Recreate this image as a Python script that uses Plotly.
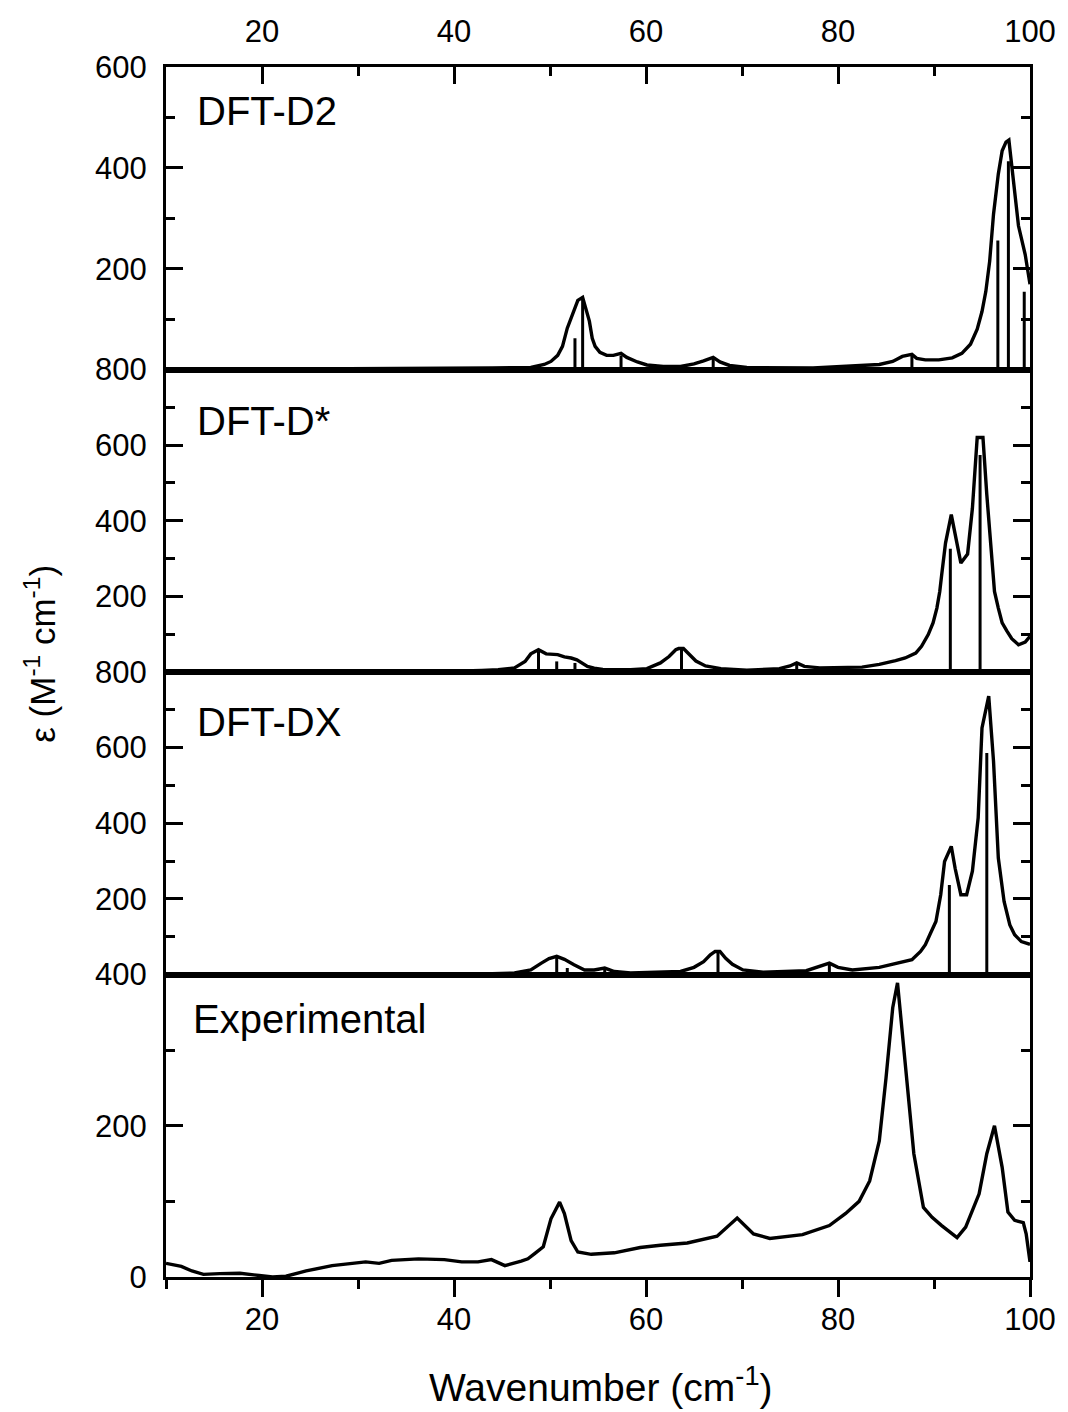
import plotly.graph_objects as go

# ---------------- data ----------------
d2_x = [10, 20, 30, 40, 44, 46, 48.0, 49.4, 50.1, 50.8, 51.3, 51.8, 52.3, 52.9, 53.4, 53.7, 54.1, 54.4, 54.7,
        55.2, 55.9, 56.6, 57.4, 58.0, 59.1, 60.1, 61.8, 63.6, 65.0, 66.0, 67.0, 67.7, 68.7, 70.5, 77.4, 84.3,
        85.7, 86.7, 87.7, 88.2, 89.1, 90.5, 91.9, 92.9, 93.8, 94.5, 95.0, 95.4, 95.8, 96.2, 96.7, 97.1, 97.5,
        97.8, 98.8, 99.5, 100]
d2_y = [0, 0.5, 1, 2, 3, 3.5, 4, 10, 16, 28, 46, 82, 109, 137, 143, 125, 96, 62, 46,
        34, 28, 28, 32, 24, 15, 9, 6, 6, 11, 17, 24, 15, 8, 4, 3, 10,
        16, 26, 30, 22, 19, 19, 23, 32, 50, 80, 115, 155, 215, 308, 388, 434, 451,
        455, 285, 228, 169]
d2_stick_x = [52.6, 53.4, 57.4, 67.0, 87.7, 96.65, 97.75, 99.4]
d2_stick_h = [62, 140, 28, 22, 28, 256, 413, 154]

ds_x = [10, 30, 40, 42.9, 44.6, 46.3, 47.4, 48.0, 48.8, 49.6, 50.2, 50.8, 51.5, 52.2, 52.8, 53.3, 53.9, 54.6,
        55.5, 58.4, 60.1, 61.5, 62.4, 63.1, 63.4, 63.9, 64.5, 65.2, 66.2, 67.8, 70.5, 73.9, 75.0, 75.7, 76.5,
        78.1, 82.5, 84.3, 86.0, 87.0, 88.1, 88.7, 89.4, 89.9, 90.3, 90.6, 90.8, 91.2, 91.8, 92.4, 92.8, 93.5,
        94.0, 94.5, 95.1, 95.5, 96.0, 96.3, 96.7, 97.1, 97.6, 98.1, 98.8, 99.5, 100]
ds_y = [0, 1, 2, 4, 6, 11, 28, 48, 59, 48, 46, 46, 40, 37, 32, 24, 15, 10,
        7, 6, 9, 24, 41, 59, 62, 62, 46, 29, 16, 9, 4.5, 9, 16, 24, 15,
        11, 13, 20, 30, 37, 50, 68, 99, 130, 169, 213, 257, 341, 416, 345, 288, 312,
        433, 620, 620, 469, 293, 213, 169, 130, 108, 88, 72, 79, 94]
ds_stick_x = [48.8, 50.7, 52.6, 63.7, 75.7, 91.7, 94.8]
ds_stick_h = [55, 28, 24, 60, 22, 326, 574]

dx_x = [10, 30, 40, 44, 46.3, 48.0, 49.1, 49.9, 50.7, 51.5, 52.5, 53.6, 54.6, 55.7, 56.7, 58.4, 63.6, 65.0,
        66.0, 66.7, 67.2, 67.7, 68.3, 69.0, 70.1, 72.2, 76.7, 78.1, 79.1, 80.0, 81.5, 84.3, 86.4, 87.7, 88.6,
        89.1, 89.6, 90.2, 90.7, 91.1, 91.8, 92.2, 92.8, 93.4, 94.0, 94.6, 95.0, 95.7, 96.2, 96.7, 97.3, 97.9,
        98.4, 99.1, 100]
dx_y = [0, 1, 1, 2, 4, 12, 30, 42, 48, 40, 26, 12, 12, 17, 8, 4, 8, 19,
        34, 52, 61, 61, 43, 27, 12, 6, 10, 21, 30, 19, 12, 19, 30, 39, 61,
        79, 107, 140, 211, 299, 339, 281, 211, 211, 273, 414, 652, 736, 564, 308, 193, 131,
        105, 87, 80]
dx_stick_x = [50.7, 51.8, 55.7, 67.5, 79.1, 91.6, 95.5]
dx_stick_h = [44, 17, 15, 61, 28, 237, 586]

exp_x = [10.0, 11.6, 12.7, 13.9, 15.6, 17.7, 19.7, 21.1, 22.5, 24.6, 27.3, 30.8, 32.2, 33.5, 36.3, 37.7, 39.0,
         40.8, 42.5, 43.9, 45.3, 47.0, 47.7, 48.4, 49.3, 50.1, 51.0, 51.5, 52.2, 52.9, 54.3, 56.7, 59.4, 61.5,
         64.3, 67.4, 69.5, 71.2, 72.9, 76.3, 79.1, 80.8, 82.2, 83.3, 84.3, 85.0, 85.7, 86.2, 87.1, 87.9, 88.9,
         89.8, 90.8, 92.4, 93.3, 94.7, 95.5, 96.3, 97.1, 97.7, 98.4, 99.3, 99.6, 100]
exp_y = [18, 14, 8, 3.5, 4.5, 5, 2, 0, 1, 8, 15, 20, 18, 22, 24, 24, 23,
         20, 20, 23, 15, 21, 24, 31, 40, 77, 99, 84, 48, 33, 30, 32, 39, 42,
         45, 54, 78, 57, 51, 56, 68, 84, 100, 127, 180, 263, 356, 389, 272, 163, 92,
         79, 68, 52, 66, 110, 163, 200, 145, 86, 75, 72, 57, 20]

panel_names = ["DFT-D2", "DFT-D*", "DFT-DX", "Experimental"]
y_ranges = [[0, 600], [0, 800], [0, 800], [0, 400]]
y_tickvals = [[0, 200, 400, 600], [0, 200, 400, 600, 800], [0, 200, 400, 600, 800], [0, 200, 400]]
y_ticktext = [["", "200", "400", "600"], ["", "200", "400", "600", "800"],
              ["", "200", "400", "600", "800"], ["0", "200", "400"]]
y_minor = [[100, 300, 500], [100, 300, 500, 700], [100, 300, 500, 700], [100, 300]]
x_tickvals = [20, 40, 60, 80, 100]
x_minorvals = [10, 30, 50, 70, 90]

# ---------------- figure ----------------
FONT = "Liberation Sans, Arial, sans-serif"
LW = 3
CW = 3.4
fig = go.Figure()

curves = [(d2_x, d2_y), (ds_x, ds_y), (dx_x, dx_y), (exp_x, exp_y)]
sticks = [(d2_stick_x, d2_stick_h), (ds_stick_x, ds_stick_h), (dx_stick_x, dx_stick_h), None]

for i in range(4):
    xa = "x" if i == 0 else f"x{i+1}"
    ya = "y" if i == 0 else f"y{i+1}"
    if sticks[i] is not None:
        sx, sh = sticks[i]
        xs, ys = [], []
        for a, h in zip(sx, sh):
            xs += [a, a, None]
            ys += [0, h, None]
        fig.add_trace(go.Scatter(x=xs, y=ys, mode="lines", line=dict(color="black", width=LW),
                                 xaxis=xa, yaxis=ya, showlegend=False, hoverinfo="skip"))
    cx, cy = curves[i]
    fig.add_trace(go.Scatter(x=cx, y=cy, mode="lines", line=dict(color="black", width=CW),
                             xaxis=xa, yaxis=ya, showlegend=False))

domains = [[0.75, 1.0], [0.5, 0.75], [0.25, 0.5], [0.0, 0.25]]
TICKFONT = dict(family=FONT, size=31, color="black")
layout = {}
for i in range(4):
    xk = "xaxis" if i == 0 else f"xaxis{i+1}"
    yk = "yaxis" if i == 0 else f"yaxis{i+1}"
    ya = "y" if i == 0 else f"y{i+1}"
    xax = dict(range=[10, 100], domain=[0, 1], anchor=ya, showline=True, linewidth=LW, linecolor="black",
               mirror=True, showgrid=False, zeroline=False, fixedrange=True, tickfont=TICKFONT)
    if i == 0:
        xax.update(side="top", ticks="inside", ticklen=17, tickwidth=LW, tickcolor="black",
                   tickmode="array", tickvals=x_tickvals, showticklabels=True, ticklabelstandoff=10,
                   minor=dict(tickmode="array", tickvals=x_minorvals, ticks="inside", ticklen=9,
                              tickwidth=LW, tickcolor="black"))
    elif i == 3:
        xax.update(side="bottom", ticks="outside", ticklen=17, tickwidth=LW, tickcolor="black",
                   tickmode="array", tickvals=x_tickvals, showticklabels=True, ticklabelstandoff=-4,
                   minor=dict(tickmode="array", tickvals=x_minorvals, ticks="outside", ticklen=9,
                              tickwidth=LW, tickcolor="black"))
    else:
        xax.update(ticks="", showticklabels=False)
    if i > 0:
        xax["matches"] = "x"
    layout[xk] = xax
    layout[yk] = dict(range=y_ranges[i], domain=domains[i], anchor=("x" if i == 0 else f"x{i+1}"),
                      showline=True, linewidth=LW, linecolor="black", mirror="allticks",
                      ticks="inside", ticklen=17, tickwidth=LW, tickcolor="black",
                      tickmode="array", tickvals=y_tickvals[i], ticktext=y_ticktext[i],
                      ticklabelstandoff=10,
                      minor=dict(tickmode="array", tickvals=y_minor[i], ticks="inside", ticklen=9,
                                 tickwidth=LW, tickcolor="black"),
                      showgrid=False, zeroline=False, fixedrange=True, tickfont=TICKFONT)

fig.update_layout(**layout)

label_x = [0.034, 0.034, 0.034, 0.029]
label_y = [0.855, 0.83, 0.834, 0.852]
for i in range(4):
    xr = "x domain" if i == 0 else f"x{i+1} domain"
    yr = "y domain" if i == 0 else f"y{i+1} domain"
    fig.add_annotation(text=panel_names[i], xref=xr, yref=yr, x=label_x[i], y=label_y[i],
                       xanchor="left", yanchor="middle", showarrow=False,
                       font=dict(family=FONT, size=40, color="black"))

fig.add_annotation(text="ε (M<sup>-1</sup> cm<sup>-1</sup>)", xref="paper", yref="paper",
                   x=-0.146, y=0.515, textangle=-90, xanchor="center", yanchor="middle",
                   showarrow=False, font=dict(family=FONT, size=35, color="black"))
fig.add_annotation(text="Wavenumber (cm<sup>-1</sup>)", xref="paper", yref="paper",
                   x=0.504, y=-0.089, xanchor="center", yanchor="middle",
                   showarrow=False, font=dict(family=FONT, size=39, color="black"))

fig.update_layout(width=1068, height=1412, margin=dict(l=166, r=33, t=67, b=135),
                  plot_bgcolor="white", paper_bgcolor="white", showlegend=False)

fig.write_html("out.html")
